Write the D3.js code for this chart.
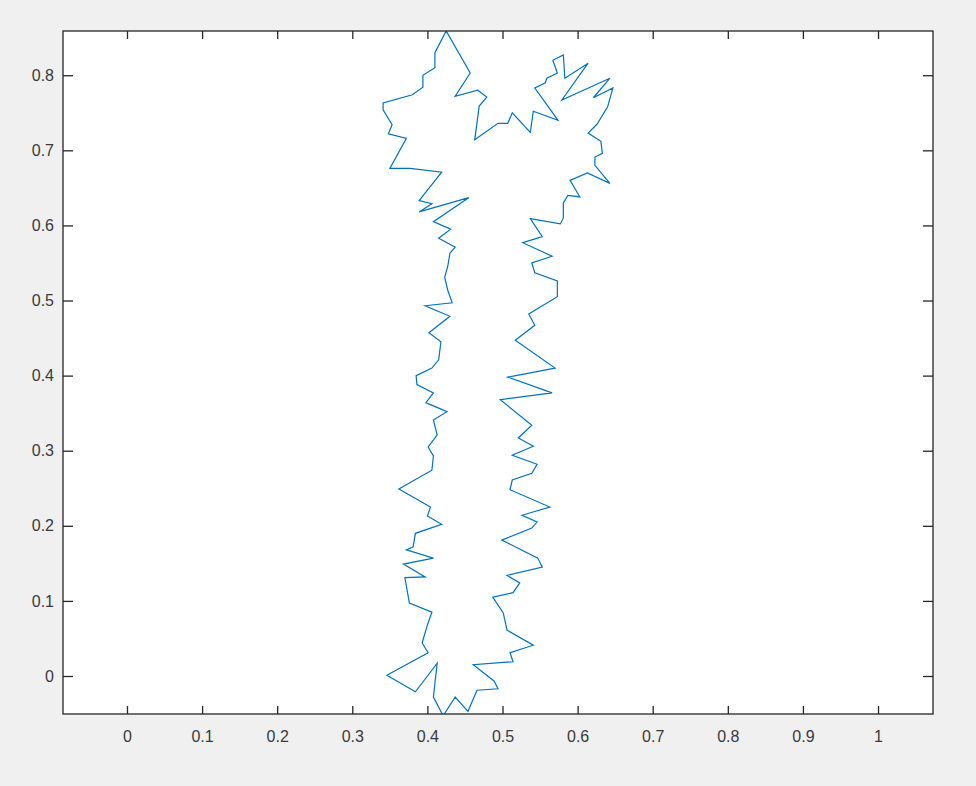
<!DOCTYPE html>
<html>
<head>
<meta charset="utf-8">
<script src="https://cdn.jsdelivr.net/npm/d3@7"></script>
<style>
  body { margin: 0; background: #f0f0f0; }
  svg { display: block; }
  .tick text { font-family: "Liberation Sans", Arial, sans-serif; font-size: 16px; fill: #3a3a3a; }
</style>
</head>
<body>
<div id="chart"></div>
<script>
const width = 976;
const height = 786;
const margin = { top: 31, right: 43, bottom: 72, left: 63 };
const w = width - margin.left - margin.right;
const h = height - margin.top - margin.bottom;

// outline points (closed shape)
const xs = [
  0.425, 0.410, 0.410, 0.394, 0.394, 0.380, 0.341, 0.341, 0.353, 0.348,
  0.372, 0.350, 0.377, 0.419, 0.389, 0.406, 0.389, 0.455, 0.408, 0.431,
  0.415, 0.437, 0.430, 0.427, 0.423, 0.427, 0.433, 0.397, 0.430, 0.402,
  0.418, 0.415, 0.406, 0.385, 0.386, 0.408, 0.398, 0.426, 0.408, 0.413,
  0.401, 0.408, 0.406, 0.362, 0.404, 0.400, 0.419, 0.384, 0.381, 0.372,
  0.408, 0.368, 0.397, 0.370, 0.376, 0.406, 0.400, 0.393, 0.401, 0.346,
  0.384, 0.413, 0.408, 0.421, 0.437, 0.454, 0.466, 0.494, 0.489, 0.461,
  0.514, 0.510, 0.541, 0.506, 0.501, 0.487, 0.514, 0.523, 0.506, 0.553,
  0.547, 0.499, 0.539, 0.546, 0.526, 0.563, 0.510, 0.513, 0.539, 0.546,
  0.513, 0.541, 0.521, 0.539, 0.497, 0.566, 0.507, 0.570, 0.517, 0.543,
  0.535, 0.573, 0.573, 0.543, 0.539, 0.566, 0.527, 0.553, 0.537, 0.577,
  0.581, 0.581, 0.587, 0.603, 0.590, 0.613, 0.643, 0.623, 0.623, 0.633,
  0.631, 0.614, 0.626, 0.640, 0.647, 0.621, 0.643, 0.579, 0.614, 0.583,
  0.581, 0.567, 0.573, 0.559, 0.557, 0.543, 0.574, 0.541, 0.537, 0.513,
  0.507, 0.494, 0.463, 0.469, 0.479, 0.467, 0.437, 0.457
];
const ys = [
  0.859, 0.830, 0.810, 0.800, 0.784, 0.774, 0.763, 0.754, 0.734, 0.722,
  0.716, 0.676, 0.676, 0.671, 0.633, 0.629, 0.618, 0.637, 0.605, 0.595,
  0.583, 0.571, 0.563, 0.545, 0.531, 0.514, 0.497, 0.493, 0.479, 0.457,
  0.445, 0.421, 0.410, 0.400, 0.388, 0.377, 0.364, 0.352, 0.341, 0.321,
  0.305, 0.293, 0.274, 0.249, 0.225, 0.213, 0.202, 0.190, 0.172, 0.168,
  0.157, 0.149, 0.132, 0.131, 0.097, 0.085, 0.068, 0.044, 0.031, 0.001,
  -0.021, 0.017, -0.028, -0.053, -0.028, -0.047, -0.019, -0.017, -0.007, 0.015,
  0.019, 0.031, 0.041, 0.061, 0.084, 0.105, 0.111, 0.124, 0.134, 0.145,
  0.157, 0.181, 0.197, 0.205, 0.214, 0.225, 0.248, 0.261, 0.270, 0.282,
  0.294, 0.306, 0.317, 0.334, 0.368, 0.377, 0.398, 0.410, 0.447, 0.467,
  0.482, 0.505, 0.526, 0.537, 0.550, 0.559, 0.577, 0.585, 0.609, 0.602,
  0.610, 0.630, 0.640, 0.638, 0.660, 0.670, 0.656, 0.680, 0.691, 0.696,
  0.712, 0.723, 0.735, 0.758, 0.783, 0.770, 0.796, 0.767, 0.816, 0.796,
  0.827, 0.820, 0.803, 0.796, 0.790, 0.783, 0.740, 0.752, 0.724, 0.750,
  0.736, 0.736, 0.714, 0.759, 0.771, 0.780, 0.772, 0.803
];

const xLimits = [-0.0852, 1.0732];
const yLimits = [-0.0506, 0.8589];
const xTicks = [0, 0.1, 0.2, 0.3, 0.4, 0.5, 0.6, 0.7, 0.8, 0.9, 1];
const yTicks = [0, 0.1, 0.2, 0.3, 0.4, 0.5, 0.6, 0.7, 0.8];

const points = xs.map((x, i) => [x, ys[i]]);

const svg = d3
  .select("#chart")
  .append("svg")
  .attr("width", width)
  .attr("height", height);

svg
  .append("rect")
  .attr("width", width)
  .attr("height", height)
  .attr("fill", "#f0f0f0");

const g = svg
  .append("g")
  .attr("transform", "translate(" + margin.left + "," + margin.top + ")");

g.append("rect")
  .attr("width", w)
  .attr("height", h)
  .attr("fill", "#ffffff");

const x = d3.scaleLinear().domain(xLimits).range([0, w]);
const y = d3.scaleLinear().domain(yLimits).range([h, 0]);

const fmt = (d) => d3.format("~g")(d);

// inward ticks on all four sides, labels only bottom/left
const xAxis = g
  .append("g")
  .attr("transform", "translate(0," + h + ")")
  .call(d3.axisBottom(x).tickValues(xTicks).tickFormat(fmt).tickSize(-8).tickPadding(17));
const yAxis = g
  .append("g")
  .call(d3.axisLeft(y).tickValues(yTicks).tickFormat(fmt).tickSize(-10).tickPadding(9));
const xTop = g
  .append("g")
  .call(d3.axisTop(x).tickValues(xTicks).tickFormat("").tickSize(-8));
const yRight = g
  .append("g")
  .attr("transform", "translate(" + w + ",0)")
  .call(d3.axisRight(y).tickValues(yTicks).tickFormat("").tickSize(-10));

[xAxis, yAxis, xTop, yRight].forEach((a) => {
  a.select(".domain").remove();
  a.selectAll("line").attr("stroke", "#262626").attr("stroke-width", 1.3);
});
xAxis.selectAll("text").attr("dy", "0.71em");

g.append("clipPath")
  .attr("id", "clip")
  .append("rect")
  .attr("width", w)
  .attr("height", h);

g.append("path")
  .datum(points)
  .attr("clip-path", "url(#clip)")
  .attr("fill", "none")
  .attr("stroke", "#0072bd")
  .attr("stroke-width", 1.2)
  .attr("stroke-linejoin", "miter")
  .attr(
    "d",
    d3
      .line()
      .x((d) => x(d[0]))
      .y((d) => y(d[1]))
      .curve(d3.curveLinearClosed)
  );

// axes box
g.append("rect")
  .attr("width", w)
  .attr("height", h)
  .attr("fill", "none")
  .attr("stroke", "#262626")
  .attr("stroke-width", 1.3);
</script>
</body>
</html>
